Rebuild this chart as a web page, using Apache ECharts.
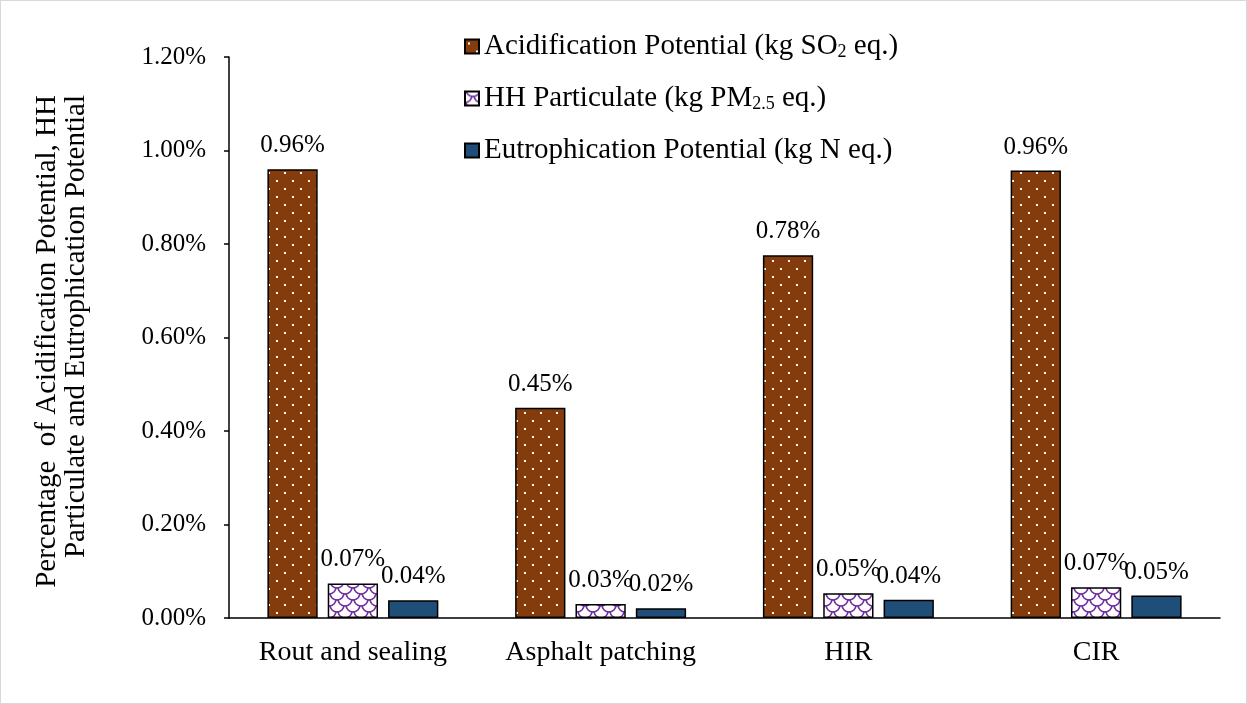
<!DOCTYPE html>
<html>
<head>
<meta charset="utf-8">
<script src="https://cdn.jsdelivr.net/npm/echarts@6/dist/echarts.min.js"></script>
<style>
  html, body { margin: 0; padding: 0; background: #fff; }
  #chart { width: 1247px; height: 704px; box-sizing: border-box; border: 1px solid #d9d9d9; }
</style>
</head>
<body>
<div id="chart"></div>
<script>
// Treatment methods on the x axis
const categories = ['Rout and sealing', 'Asphalt patching', 'HIR', 'CIR'];

// Values in percent
const acidification = [0.96, 0.45, 0.776, 0.957];
const hhParticulate = [0.074, 0.030, 0.053, 0.066];
const eutrophication = [0.038, 0.021, 0.039, 0.048];

const seriesNames = [
  'Acidification Potential (kg SO2 eq.)',
  'HH Particulate (kg PM2.5 eq.)',
  'Eutrophication Potential (kg N eq.)'
];
const legendRich = {
  'Acidification Potential (kg SO2 eq.)': '{t|Acidification Potential (kg SO}{s|2}{t| eq.)}',
  'HH Particulate (kg PM2.5 eq.)': '{t|HH Particulate (kg PM}{s|2.5}{t| eq.)}',
  'Eutrophication Potential (kg N eq.)': '{t|Eutrophication Potential (kg N eq.)}'
};

const yTitle = 'Percentage  of Acidification Potential, HH\nParticulate and Eutrophication Potential';
const yTicks = { min: 0, max: 1.2, interval: 0.2 };
const FONT = 'Liberation Serif';

// Brown fill with staggered white dots
function dotPattern() {
  const c = document.createElement('canvas');
  c.width = 16; c.height = 16;
  const g = c.getContext('2d');
  g.fillStyle = '#843C0C';
  g.fillRect(0, 0, 16, 16);
  g.fillStyle = '#ffffff';
  g.fillRect(3, 3, 2, 2);
  g.fillRect(11, 11, 2, 2);
  return c;
}

// White fill with purple fish-scale lines
function scalePattern() {
  const c = document.createElement('canvas');
  c.width = 16; c.height = 12;
  const g = c.getContext('2d');
  g.fillStyle = '#ffffff';
  g.fillRect(0, 0, 16, 12);
  g.strokeStyle = '#7030A0';
  g.lineWidth = 1.6;
  const arcs = [[8, -2], [0, 4], [16, 4], [8, 10]];
  arcs.forEach(([cx, cy]) => {
    g.beginPath();
    g.arc(cx, cy, 7, 0, Math.PI);
    g.stroke();
  });
  return c;
}

const fills = [
  { image: dotPattern(), repeat: 'repeat' },
  { image: scalePattern(), repeat: 'repeat' },
  '#1F4E79'
];
const values = [acidification, hhParticulate, eutrophication];

const chart = echarts.init(document.getElementById('chart'), null, { renderer: 'canvas' });

chart.setOption({
  animation: false,
  backgroundColor: '#ffffff',
  textStyle: { fontFamily: FONT, color: '#000' },
  grid: { left: 228, right: 26, top: 56, bottom: 85, containLabel: false },
  // Two-line vertical axis title, both lines flush at the top end
  graphic: [{
    type: 'text',
    x: 61,
    y: 94,
    rotation: Math.PI / 2,
    style: {
      text: yTitle,
      fontFamily: FONT,
      fontSize: 29,
      lineHeight: 29,
      fill: '#000',
      align: 'right',
      verticalAlign: 'middle'
    }
  }],
  legend: {
    orient: 'vertical',
    left: 458,
    top: 26,
    itemWidth: 14,
    itemHeight: 14,
    itemGap: 23,
    icon: 'rect',
    data: seriesNames,
    formatter: name => legendRich[name],
    textStyle: {
      fontFamily: FONT,
      color: '#000',
      rich: {
        t: { fontFamily: FONT, fontSize: 29, color: '#000' },
        s: { fontFamily: FONT, fontSize: 18, color: '#000', verticalAlign: 'bottom', lineHeight: 23 }
      }
    }
  },
  xAxis: {
    type: 'category',
    data: categories,
    axisLine: { lineStyle: { color: '#000', width: 1.5 } },
    axisTick: { show: false },
    axisLabel: { interval: 0, hideOverlap: false, fontFamily: FONT, fontSize: 28, color: '#000', margin: 21 }
  },
  yAxis: {
    type: 'value',
    min: yTicks.min,
    max: yTicks.max,
    interval: yTicks.interval,
    axisLine: { show: true, lineStyle: { color: '#000', width: 1.5 } },
    axisTick: { show: true, length: 5, lineStyle: { color: '#000', width: 1.5 } },
    splitLine: { show: false },
    axisLabel: {
      fontFamily: FONT, fontSize: 25, color: '#000', margin: 23,
      formatter: v => v.toFixed(2) + '%'
    }
  },
  series: seriesNames.map((name, i) => ({
    name: name,
    type: 'bar',
    data: values[i],
    barGap: '20%',
    barCategoryGap: '31%',
    itemStyle: { color: fills[i], borderColor: '#000', borderWidth: 1.5 },
    label: {
      show: true,
      position: 'top',
      distance: 11,
      fontFamily: FONT,
      fontSize: 25,
      color: '#000',
      formatter: p => p.value.toFixed(2) + '%'
    }
  }))
});
</script>
</body>
</html>
